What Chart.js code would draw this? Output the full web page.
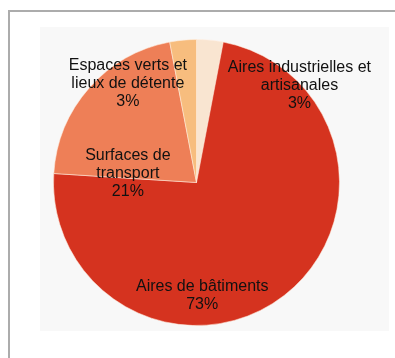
<!DOCTYPE html>
<html>
<head>
<meta charset="utf-8">
<script src="https://cdn.jsdelivr.net/npm/chart.js@4/dist/chart.umd.min.js"></script>
<style>
  html, body { margin: 0; padding: 0; background: #fff; }
  body { width: 395px; height: 358px; position: relative; overflow: hidden; }
  .frame { position: absolute; left: 8px; top: 10px; width: 480px; height: 440px; border: 2px solid #acacac; box-sizing: border-box; }
  .plot { position: absolute; left: 40px; top: 27px; width: 349px; height: 304px; background: #f8f8f8; }
  #pieChart { position: absolute; left: 0; top: 0; }
</style>
</head>
<body>
<div class="frame"></div>
<div class="plot"></div>
<canvas id="pieChart" width="395" height="358"></canvas>
<script>
// Land use shares, clockwise from the top
const categories = [
    ['Aires industrielles et', 'artisanales'],
    ['Aires de bâtiments'],
    ['Surfaces de', 'transport'],
    ['Espaces verts et', 'lieux de détente']
];
const shares = [3, 73, 21, 3];
const sliceColors = ['#f9e5d1', '#d5331f', '#ee7f57', '#f7bd7e'];

// where each label block sits, as a fraction of the radius from the centre
const labelOffsets = [
    { dx: 0.72, dy: -0.68 },
    { dx: 0.04, dy: 0.79 },
    { dx: -0.48, dy: -0.06 },
    { dx: -0.48, dy: -0.69 }
];

const sliceLabels = {
    id: 'sliceLabels',
    afterDatasetsDraw(chart) {
        const ctx = chart.ctx;
        const arcs = chart.getDatasetMeta(0).data;
        ctx.save();
        ctx.font = '16px "Liberation Sans", Arial, sans-serif';
        ctx.fillStyle = '#111111';
        ctx.textAlign = 'center';
        ctx.textBaseline = 'middle';
        const lineH = 18;
        arcs.forEach((arc, i) => {
            const lines = categories[i].concat([shares[i] + '%']);
            const cx = arc.x + labelOffsets[i].dx * arc.outerRadius;
            const cy = arc.y + labelOffsets[i].dy * arc.outerRadius;
            const top = cy - (lines.length - 1) * lineH / 2;
            lines.forEach((t, j) => ctx.fillText(t, cx, top + j * lineH));
        });
        ctx.restore();
    }
};

const ctx = document.getElementById('pieChart').getContext('2d');

const pieChart = new Chart(ctx, {
    type: 'pie',
    data: {
        labels: categories.map(c => c.join(' ')),
        datasets: [{
            data: shares,
            backgroundColor: sliceColors,
            borderColor: 'rgba(255, 236, 222, 0.55)',
            borderWidth: 1
        }]
    },
    options: {
        responsive: false,
        animation: false,
        events: [],
        layout: {
            padding: { left: 53, right: 55, top: 39, bottom: 32 }
        },
        plugins: {
            legend: { display: false },
            tooltip: { enabled: false }
        }
    },
    plugins: [sliceLabels]
});
</script>
</body>
</html>
